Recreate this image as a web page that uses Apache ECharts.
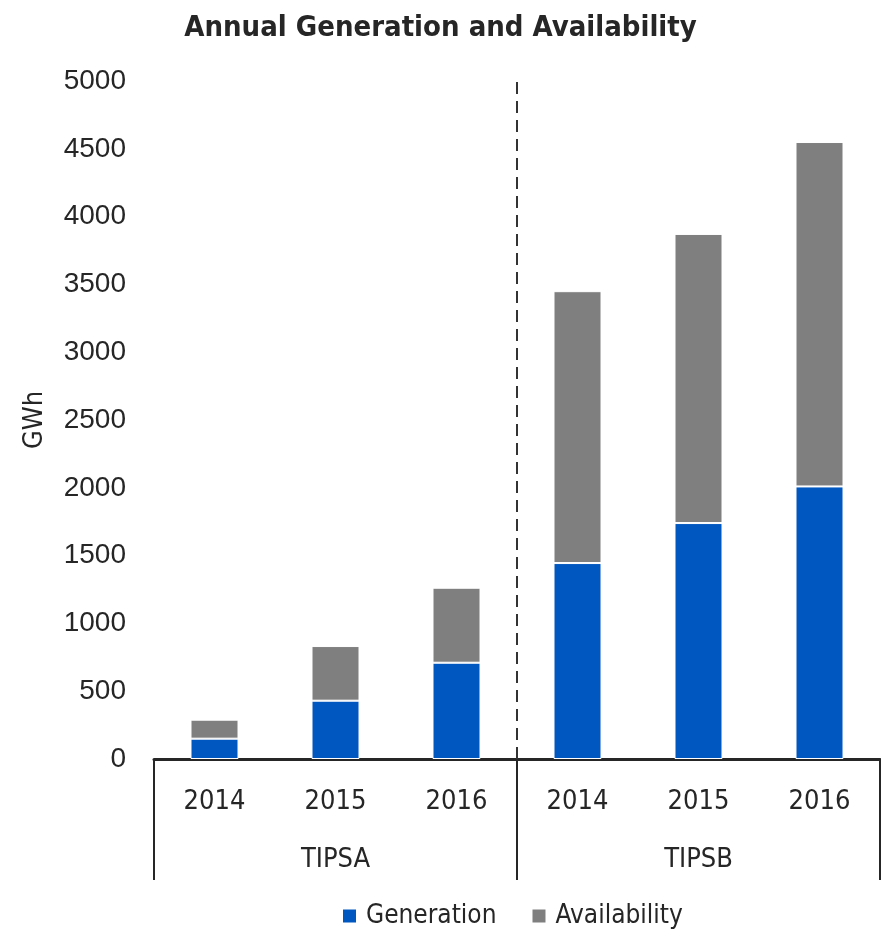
<!DOCTYPE html>
<html>
<head>
<meta charset="utf-8">
<script src="https://cdn.jsdelivr.net/npm/echarts@6/dist/echarts.min.js"></script>
<style>
  html, body { margin: 0; padding: 0; background: #fff; }
  #chart { width: 881px; height: 934px; }
</style>
</head>
<body>
<div id="chart"></div>
<script>
// Plants and years on the two-level category axis
const groups = ['TIPSA', 'TIPSB'];
const years = ['2014', '2015', '2016'];

// Annual energy per plant and year, GWh (stacked: generation + remaining availability)
const generation = [150, 430, 710, 1445, 1740, 2010];
const availability = [140, 403, 553, 2005, 2132, 2540];

// Value-axis ticks
const yMin = 0, yMax = 5000, yStep = 500;

const narrow = "'Liberation Sans Narrow', 'DejaVu Sans Condensed', 'Roboto', sans-serif";
const ink = '#262626';

const yearLabels = [];
groups.forEach(() => years.forEach(y => yearLabels.push(y)));

const chart = echarts.init(document.getElementById('chart'));
chart.setOption({
  animation: false,
  title: {
    text: 'Annual Generation and Availability',
    left: 'center',
    top: 9,
    textStyle: { fontFamily: narrow, fontSize: 29, fontWeight: 'bold', color: ink }
  },
  legend: {
    bottom: 0,
    left: 336,
    icon: 'rect',
    itemWidth: 15,
    itemHeight: 15,
    itemGap: 34,
    textStyle: { fontFamily: narrow, fontSize: 26, color: ink, padding: [0, 0, 0, 4] },
    data: ['Generation', 'Availability']
  },
  grid: { left: 154, right: 1, top: 81, bottom: 175 },
  xAxis: [
    {
      type: 'category',
      data: yearLabels,
      axisLine: { show: true, lineStyle: { color: ink, width: 3 } },
      axisTick: { show: false },
      axisLabel: { fontFamily: narrow, fontSize: 27, color: ink, margin: 29 }
    },
    {
      type: 'category',
      data: groups,
      position: 'bottom',
      axisLine: { show: false },
      axisTick: { show: true, length: 121, lineStyle: { color: ink, width: 2 } },
      axisLabel: { fontFamily: narrow, fontSize: 27, color: ink, margin: 87 }
    },
    {
      type: 'value',
      min: 0,
      max: groups.length * years.length,
      show: false
    }
  ],
  yAxis: {
    type: 'value',
    min: yMin,
    max: yMax,
    interval: yStep,
    name: 'GWh',
    nameLocation: 'middle',
    nameGap: 106,
    nameRotate: 90,
    nameTextStyle: { fontFamily: narrow, fontSize: 27, color: ink },
    axisLine: { show: false },
    axisTick: { show: false },
    splitLine: { show: false },
    axisLabel: {
      fontFamily: "'Liberation Sans', Arial, sans-serif",
      fontSize: 28,
      color: ink,
      margin: 28,
      formatter: v => String(v)
    }
  },
  series: [
    {
      name: 'Generation',
      type: 'bar',
      stack: 'total',
      data: generation,
      barWidth: 48,
      itemStyle: { color: '#0057BF', borderColor: '#ffffff', borderWidth: 1 }
    },
    {
      name: 'Availability',
      type: 'bar',
      stack: 'total',
      data: availability,
      barWidth: 48,
      itemStyle: { color: '#7F7F7F', borderColor: '#ffffff', borderWidth: 1 }
    },
    {
      // divider between the two plants
      name: 'divider',
      type: 'line',
      xAxisIndex: 2,
      data: [],
      silent: true,
      markLine: {
        silent: true,
        symbol: 'none',
        label: { show: false },
        lineStyle: { color: '#333333', width: 2, type: [12, 7] },
        data: [{ xAxis: years.length }]
      }
    }
  ]
});
</script>
</body>
</html>
